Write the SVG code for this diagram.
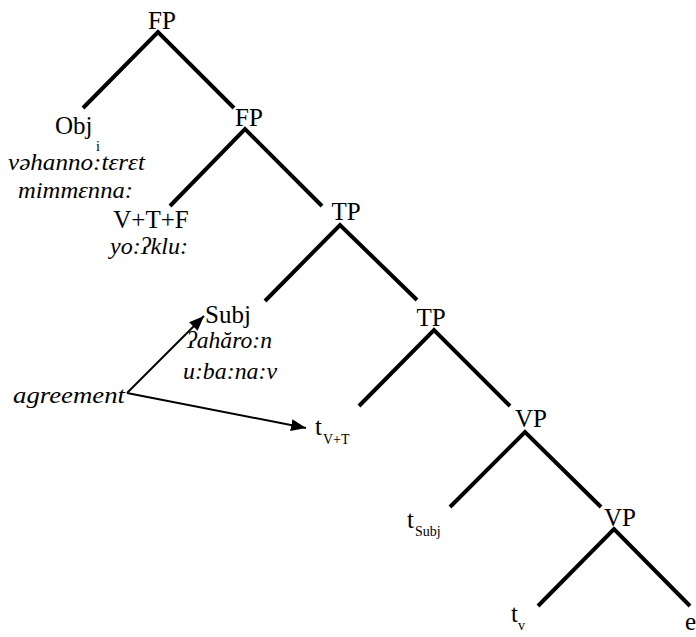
<svg xmlns="http://www.w3.org/2000/svg" width="696" height="637" viewBox="0 0 696 637">
<defs>
<style>
.lbl{font-size:25px}
.sub{font-size:14px}
.it{font-style:italic;font-size:24px}
.br{stroke:#000;stroke-width:4;fill:none;stroke-linecap:butt}
.ar{stroke:#000;stroke-width:2;fill:none}
</style>
<marker id="ah" markerUnits="userSpaceOnUse" markerWidth="16" markerHeight="12" refX="15" refY="6" orient="auto">
<path d="M0,0 L15,6 L0,12 Z" fill="#000"/>
</marker>
</defs>
<rect width="696" height="637" fill="#fff"/>
<g id="connectors">
<path class="br" d="M83,108 L158,32 L234,108"/>
<path class="br" d="M170,206 L245,129 L322,206"/>
<path class="br" d="M265,301 L340,225 L417,300"/>
<path class="br" d="M359,406 L434,330 L510,406"/>
<path class="br" d="M450,507 L525,432 L601,507"/>
<path class="br" d="M538,606 L614,529 L690,606"/>
<line class="ar" x1="127" y1="393" x2="204" y2="316" marker-end="url(#ah)"/>
<line class="ar" x1="127" y1="393" x2="306" y2="428" marker-end="url(#ah)"/>
</g>
<g font-family="Liberation Serif, Times New Roman, serif" fill="#000">
<g id="fp1"><text class="lbl" x="162" y="29" text-anchor="middle">FP</text></g>
<g id="obj">
<text class="lbl" x="55" y="134">Obj</text><text class="sub" x="96" y="151">i</text>
<text class="it" x="8" y="170" textLength="137" lengthAdjust="spacingAndGlyphs">vəhanno:tɛrɛt</text>
<text class="it" x="18" y="198" textLength="115" lengthAdjust="spacingAndGlyphs">mimmɛnna:</text>
</g>
<g id="fp2"><text class="lbl" x="249" y="126" text-anchor="middle">FP</text></g>
<g id="vtf">
<text class="lbl" x="151" y="228" text-anchor="middle">V+T+F</text>
<text class="it" x="110" y="254" textLength="78" lengthAdjust="spacingAndGlyphs">yo:ʔklu:</text>
</g>
<g id="tp1"><text class="lbl" x="346" y="220" text-anchor="middle">TP</text></g>
<g id="subj">
<text class="lbl" x="205" y="323">Subj</text>
<text class="it" x="187" y="348" textLength="85" lengthAdjust="spacingAndGlyphs">ʔahăro:n</text>
<text class="it" x="183" y="379" textLength="94" lengthAdjust="spacingAndGlyphs">u:ba:na:v</text>
</g>
<g id="agreement"><text class="it" x="13" y="403" textLength="112" lengthAdjust="spacingAndGlyphs">agreement</text></g>
<g id="tp2"><text class="lbl" x="431" y="326" text-anchor="middle">TP</text></g>
<g id="tvt"><text class="lbl" x="315" y="435">t</text><text class="sub" x="323" y="444">V+T</text></g>
<g id="vp1"><text class="lbl" x="531" y="427" text-anchor="middle">VP</text></g>
<g id="tsubj"><text class="lbl" x="407" y="528">t</text><text class="sub" x="415" y="536">Subj</text></g>
<g id="vp2"><text class="lbl" x="620" y="526" text-anchor="middle">VP</text></g>
<g id="tv"><text class="lbl" x="511" y="622">t</text><text class="sub" x="518" y="630">v</text></g>
<g id="e"><text class="lbl" x="685" y="630">e</text></g>
</g>
</svg>
